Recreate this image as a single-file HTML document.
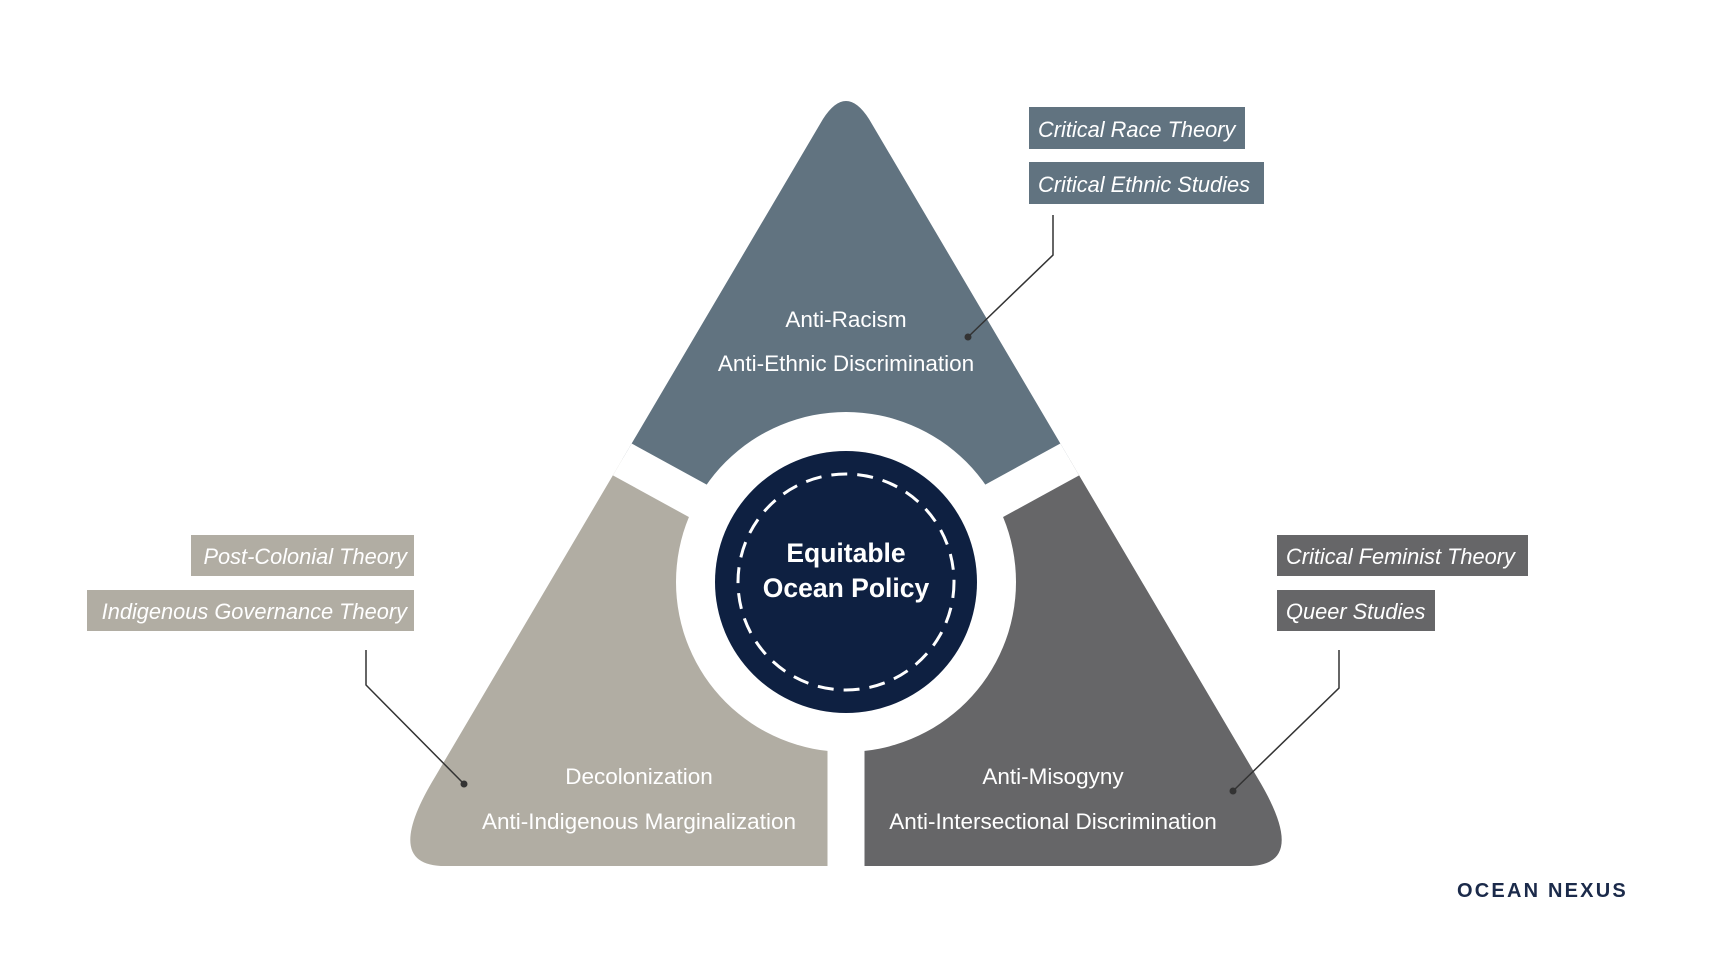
<!DOCTYPE html>
<html><head><meta charset="utf-8"><style>
html,body{margin:0;padding:0;background:#fff}
svg{display:block}
text{font-family:"Liberation Sans",sans-serif}
</style></head><body>
<svg width="1721" height="968" viewBox="0 0 1721 968" xmlns="http://www.w3.org/2000/svg">
<defs>
<clipPath id="tri">
<path d="M828,122 Q851,86 874,122 L1262,780 Q1316,869 1252,869 L450,869 Q386,869 440,780 Z"/>
</clipPath>
</defs>
<g transform="translate(-5,-3)">
<g clip-path="url(#tri)">
<polygon points="851,585 380,327 851,0 1322,327" fill="#617380"/>
<polygon points="851,585 380,327 0,1000 851,1000" fill="#b1ada3"/>
<polygon points="851,585 1322,327 1721,1000 851,1000" fill="#666668"/>
<g stroke="#fff" stroke-width="37">
<line x1="851" y1="585" x2="380" y2="327"/>
<line x1="851" y1="585" x2="1322" y2="327"/>
<line x1="851" y1="585" x2="851" y2="1000"/>
</g>
</g>
<circle cx="851" cy="585" r="170" fill="#fff"/>
<circle cx="851" cy="585" r="131" fill="#0e2041"/>
<circle cx="851" cy="585" r="108" fill="none" stroke="#fff" stroke-width="3" stroke-dasharray="16 10"/>
<text x="851" y="565" fill="#fff" font-size="26.5" font-weight="bold" text-anchor="middle">Equitable</text>
<text x="851" y="600" fill="#fff" font-size="26.5" font-weight="bold" text-anchor="middle">Ocean Policy</text>
</g>
<g transform="translate(-5,-1)">
<g fill="#fff" font-size="22.5" text-anchor="middle">
<text x="851" y="328">Anti-Racism</text>
<text x="851" y="372">Anti-Ethnic Discrimination</text>
<text x="644" y="785">Decolonization</text>
<text x="644" y="830">Anti-Indigenous Marginalization</text>
<text x="1058" y="785">Anti-Misogyny</text>
<text x="1058" y="830">Anti-Intersectional Discrimination</text>
</g>

<g stroke="#333" stroke-width="1.5" fill="none">
<polyline points="1058,216 1058,256 973,338"/>
<polyline points="371,651 371,686 469,785"/>
<polyline points="1344,651 1344,689 1238,792"/>
</g>
<g fill="#333">
<circle cx="973" cy="338" r="3.5"/>
<circle cx="469" cy="785" r="3.5"/>
<circle cx="1238" cy="792" r="3.5"/>
</g>

<rect x="1034" y="108" width="216" height="42" fill="#617380"/>
<rect x="1034" y="163" width="235" height="42" fill="#617380"/>
<rect x="196" y="536" width="223" height="41" fill="#b1ada3"/>
<rect x="92" y="591" width="327" height="41" fill="#b1ada3"/>
<rect x="1282" y="536" width="251" height="41" fill="#666668"/>
<rect x="1282" y="591" width="158" height="41" fill="#666668"/>
<g fill="#fff" font-size="21.8" font-style="italic">
<text x="1043" y="138">Critical Race Theory</text>
<text x="1043" y="193">Critical Ethnic Studies</text>
<text x="412" y="565" text-anchor="end">Post-Colonial Theory</text>
<text x="412" y="620" text-anchor="end">Indigenous Governance Theory</text>
<text x="1291" y="565">Critical Feminist Theory</text>
<text x="1291" y="620">Queer Studies</text>
</g>
<text x="1462" y="898" fill="#1b2a4a" font-size="20" font-weight="bold" letter-spacing="2.2">OCEAN NEXUS</text>
</g>
</svg>
</body></html>
